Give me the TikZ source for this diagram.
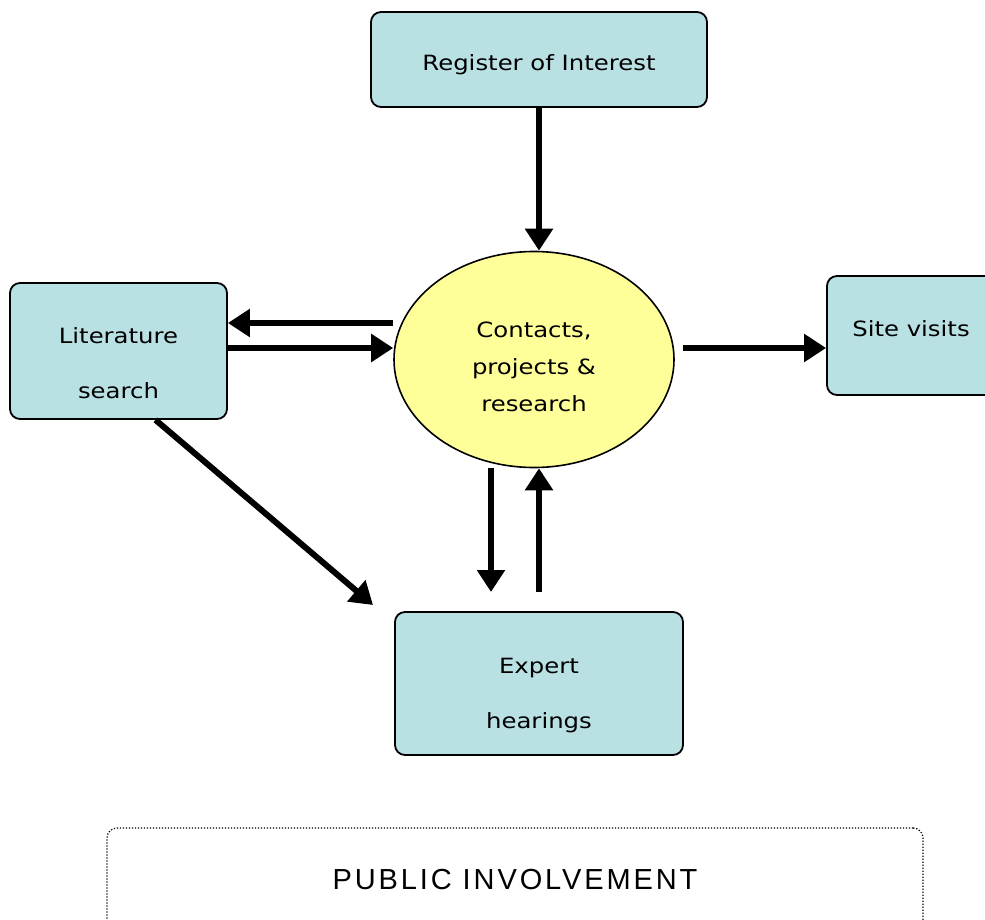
\documentclass[tikz,border=0pt]{standalone}
\usepackage{fontspec}
\setmainfont{DejaVu Sans}[FakeStretch=1.16]
\newfontfamily\pubfont[LetterSpace=10]{Liberation Sans}
\usetikzlibrary{arrows.meta,shapes.geometric}

\definecolor{boxblue}{RGB}{185,224,227}
\definecolor{hubyellow}{RGB}{255,255,153}

\tikzset{
  box/.style={draw, line width=1.8pt, fill=boxblue, rounded corners=10pt, inner sep=0pt},
  hub/.style={ellipse, draw, line width=1.6pt, fill=hubyellow, minimum width=280pt, minimum height=216pt, inner sep=0pt},
  arr/.style={line width=6pt, -{Triangle[length=22pt,width=27pt]}},
  txt/.style={font=\fontsize{21}{25}\selectfont, align=center}
}

\begin{document}
\begin{tikzpicture}[x=1pt,y=-1pt]
  \useasboundingbox (0,0) rectangle (985,920);

  % boxes
  \node[box, minimum width=336pt, minimum height=95pt,
        label={[txt, yshift=-5pt]center:{Register of Interest}}] (reg) at (539,59.5) {};
  \node[box, minimum width=217pt, minimum height=136pt,
        label={[txt, yshift=-12pt]center:{Literature\\[30pt]search}}] (lit) at (118.5,351) {};
  \node[hub, label={[txt, yshift=-7pt]center:{Contacts,\\[12pt]projects \&\\[12pt]research}}] (hub) at (534,359.5) {};
  \node[box, minimum width=168pt, minimum height=119pt,
        label={[txt, yshift=7pt]center:{Site visits}}] (site) at (911,335.5) {};
  \node[box, minimum width=288pt, minimum height=143pt,
        label={[txt, yshift=-12pt]center:{Expert\\[30pt]hearings}}] (expert) at (539,683.5) {};
  \node[draw, line width=1.2pt, dash pattern=on 1.2pt off 1.8pt, rounded corners=10pt,
        minimum width=816pt, minimum height=110pt, font=\pubfont\fontsize{29}{34}\selectfont]
        (pub) at (515,883) {\raisebox{8pt}{PUBLIC INVOLVEMENT}};

  % free ends
  \coordinate (toLit) at (393,323);
  \coordinate (toSite) at (683,348);
  \coordinate (diagEnd) at (373,605);
  \coordinate (downEnd) at (491,592);
  \coordinate (upStart) at (539,592);

  % arrows
  \draw[arr] (reg.south) -- (reg.south |- hub.north);
  \draw[arr] (toLit) -- (toLit -| lit.east);
  \draw[arr] ([yshift=3pt]lit.east) -- ([yshift=3pt]lit.east -| hub.west);
  \draw[arr] (toSite) -- (toSite -| site.west);
  \draw[arr] ([xshift=37pt]lit.south) -- (diagEnd);
  \draw[arr] (downEnd |- hub.south) -- (downEnd);
  \draw[arr] (upStart) -- (upStart |- hub.south);
\end{tikzpicture}
\end{document}
